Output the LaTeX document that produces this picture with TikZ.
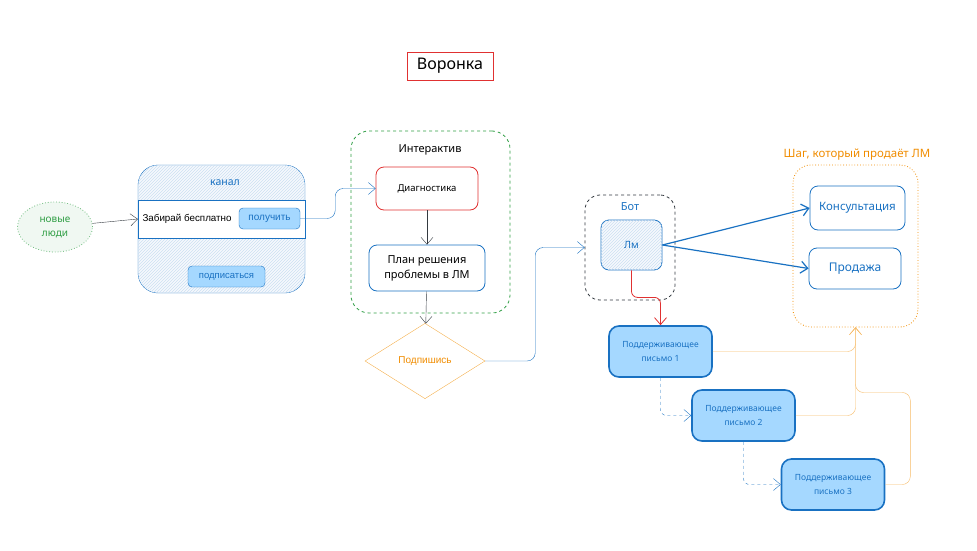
\documentclass[tikz,border=0pt]{standalone}
\usepackage{fontspec}
\setmainfont{Noto Sans}
\newfontfamily\helv{Liberation Sans}
\usetikzlibrary{shapes.geometric,patterns,arrows.meta}
\definecolor{exblue}{HTML}{1971C2}
\definecolor{exlight}{HTML}{A5D8FF}
\definecolor{exred}{HTML}{E03131}
\definecolor{exgreen}{HTML}{2F9E44}
\definecolor{exorange}{HTML}{F08C00}
\definecolor{exdark}{HTML}{343A40}
\begin{document}
\begin{tikzpicture}[x=1pt,y=-1pt,>={Straight Barb[length=7pt,width=12pt]},
    every node/.style={font=\fontsize{10}{14}\selectfont},
    box/.style={draw=exblue,thick,rounded corners=8,align=center},
    btn/.style={draw=exblue,fill=exlight,rounded corners=4,minimum height=21,text=exblue,font=\helv\fontsize{10}{11}\selectfont},
    letter/.style={draw=exblue,fill=exlight,line width=1.6pt,rounded corners=10,minimum width=103,minimum height=51,align=center,text=exblue,font=\fontsize{8.5}{14}\selectfont},
    hatch/.style={fill=exblue!4,postaction={pattern=north east lines,pattern color=exblue!22}}]
    \useasboundingbox (0,0) rectangle (977,551);
    \node[draw=exred,minimum width=86,minimum height=28,font=\fontsize{16}{18}\selectfont] (title) at (450,66) {Воронка};
    \node[ellipse,draw=exgreen!70,dotted,thick,fill=exgreen!7,minimum width=75,minimum height=50,align=center,text=exgreen,font=\bfseries\fontsize{10}{14}\selectfont] (people) at (55,227) {новые\\люди};
    \node[draw=exblue,hatch,rounded corners=20,minimum width=167,minimum height=128] (chan) at (221.5,229) {};
    \node[draw=exblue,fill=white,minimum width=167,minimum height=38] (band) at (221.5,219) {};
    \node[text=exblue,font=\bfseries\fontsize{10.5}{12}\selectfont] (chanlbl) at (225,183) {канал};
    \node[anchor=west,font=\helv\fontsize{9.8}{12}\selectfont] (free) at (139,219) {Забирай бесплатно};
    \node[btn,minimum width=61] (get) at (269.5,218.5) {получить};
    \node[btn,minimum width=77,font=\helv\fontsize{9.5}{11}\selectfont] (subscr) at (226.5,276.5) {подписаться};
    \node[draw=exgreen,dashed,thick,rounded corners=18,minimum width=159,minimum height=182] (inter) at (430.5,222) {};
    \node[font=\fontsize{11}{13}\selectfont] (interlbl) at (430,150) {Интерактив};
    \node[box,draw=exred,minimum width=102,minimum height=43,font=\fontsize{9.5}{12}\selectfont] (diag) at (427,188.5) {Диагностика};
    \node[box,minimum width=116,minimum height=46,font=\fontsize{11}{15}\selectfont] (plan) at (427,268) {План решения\\проблемы в ЛМ};
    \node[diamond,draw=exorange!70,minimum width=120,minimum height=52,text=exorange,font=\helv\fontsize{10}{11}\selectfont] (signup) at (425,361) {Подпишись};
    \node[draw=exdark,dashed,thick,rounded corners=15,minimum width=90,minimum height=105] (bot) at (630,247.5) {};
    \node[text=exblue,font=\fontsize{11}{13}\selectfont] (botlbl) at (630,207) {Бот};
    \node[draw=exblue,thick,hatch,rounded corners=8,minimum width=61,minimum height=50,text=exblue] (lm) at (631.5,245) {Лм};
    \node[draw=exorange,dotted,thick,rounded corners=18,minimum width=125,minimum height=162] (step) at (855.5,246) {};
    \node[text=exorange,font=\fontsize{11.5}{13}\selectfont] (steplbl) at (857,155) {Шаг, который продаёт ЛМ};
    \node[box,minimum width=95,minimum height=44,text=exblue,font=\fontsize{11.5}{13}\selectfont] (cons) at (857.5,208) {Консультация};
    \node[box,minimum width=92,minimum height=41,text=exblue,font=\fontsize{12}{14}\selectfont] (sale) at (855,268.5) {Продажа};
    \node[letter] (l1) at (660.5,351.5) {Поддерживающее\\письмо 1};
    \node[letter] (l2) at (743.5,415.5) {Поддерживающее\\письмо 2};
    \node[letter] (l3) at (833,484.5) {Поддерживающее\\письмо 3};
    \draw[->,exdark] (people) -- (band.west);
    \draw[->,exblue,rounded corners=8] (get.east) -- ++(35,0) |- (diag.west);
    \draw[->,exdark] (diag) -- (plan);
    \draw[->,exdark] (plan) -- (signup);
    \draw[->,exblue,rounded corners=8] (signup.east) -- ++(50,0) |- (bot.west);
    \draw[->,exred,thick,rounded corners=6] (lm.south) -- ++(0,27) -| (l1.north);
    \draw[->,exblue,very thick] (lm.east) -- (cons.west);
    \draw[->,exblue,very thick] (lm.east) -- (sale.west);
    \draw[->,exblue,dashed,rounded corners=6] (l1.south) |- (l2.west);
    \draw[->,exblue,dashed,rounded corners=6] (l2.south) |- (l3.west);
    \draw[->,exorange!60,rounded corners=8] (l1.east) -| (step.south);
    \draw[->,exorange!60,rounded corners=8] (l2.east) -| (step.south);
    \draw[->,exorange!60,rounded corners=8] (l3.east) -- ++(25,0) -- ++(0,-92) -| (step.south);
\end{tikzpicture}
\end{document}
